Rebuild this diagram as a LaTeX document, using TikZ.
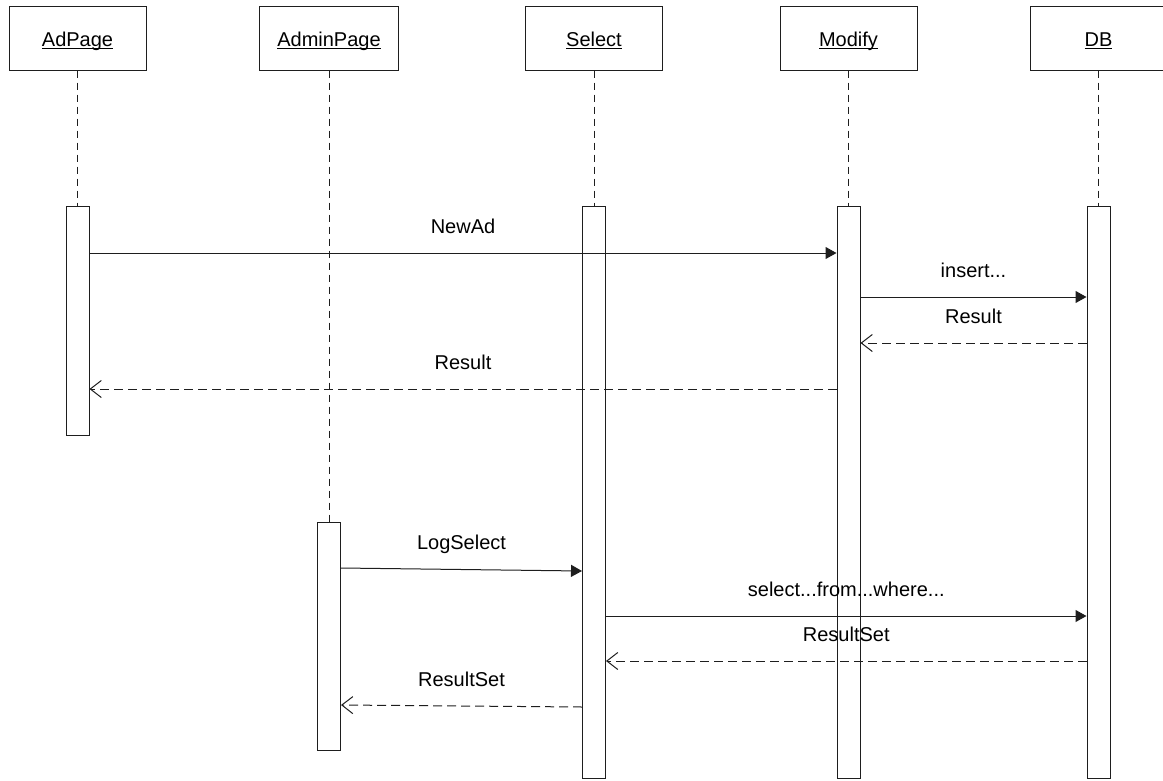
\documentclass[tikz,border=0pt]{standalone}
\usepackage{fontspec}
\setmainfont{Liberation Sans}
\usepackage{xcolor}
\definecolor{ln}{RGB}{30, 30, 30}
\usetikzlibrary{arrows.meta,positioning}

% underlined object name, rule crossing the descenders
\newcommand{\objname}[1]{\setbox0\hbox{#1}\rlap{\rule[-2pt]{\wd0}{1pt}}\box0}

\begin{document}
\begin{tikzpicture}[x=1pt, y=-1pt, font=\fontsize{20}{24}\selectfont,
        head/.style={draw=ln, line width=1pt, minimum width=137pt, minimum height=64pt,
            text height=17.5pt, text depth=0pt, inner sep=0pt},
        bar/.style={draw=ln, line width=1pt, fill=white, minimum width=23pt, inner sep=0pt, anchor=north},
        life/.style={draw=ln, line width=1pt, dash pattern=on 7pt off 5pt},
        call/.style={draw=ln, line width=1pt, -{Triangle[length=11pt,width=12pt]}},
        reply/.style={draw=ln, line width=1pt, dash pattern=on 9pt off 5pt,
            -{Straight Barb[length=11pt,width=17pt]}},
        lbl/.style={midway, anchor=base, yshift=20pt}]
        \useasboundingbox (0,0) rectangle (1163,780);

        % Objects
        \node[head] (adpage) at (77.5,38) {\objname{AdPage}};
        \node[head, minimum width=139pt] (adminpage) at (329,38) {\objname{AdminPage}};
        \node[head] (select) at (594,38) {\objname{Select}};
        \node[head] (modify) at (848.5,38) {\objname{Modify}};
        \node[head] (db) at (1098.5,38) {\objname{DB}};

        % Activation bars
        \node[bar, minimum height=229pt] (adbar) at (77.5,206) {};
        \node[bar, minimum height=228pt] (adminbar) at (329,522) {};
        \node[bar, minimum height=572pt] (selbar) at (594,206) {};
        \node[bar, minimum height=572pt] (modbar) at (848.5,206) {};
        \node[bar, minimum height=572pt] (dbbar) at (1098.5,206) {};

        % Lifelines
        \draw[life] (adpage.south) -- (adbar.north);
        \draw[life] (adminpage.south) -- (adminbar.north);
        \draw[life] (select.south) -- (selbar.north);
        \draw[life] (modify.south) -- (modbar.north);
        \draw[life] (db.south) -- (dbbar.north);

        % Message heights
        \coordinate (m1) at (0,253);
        \coordinate (m2) at (0,297);
        \coordinate (m3) at (0,343);
        \coordinate (m4) at (0,389);
        \coordinate (m5) at (0,568);
        \coordinate (m5b) at (0,571);
        \coordinate (m6) at (0,616);
        \coordinate (m7) at (0,661);
        \coordinate (m8) at (0,707);
        \coordinate (m8b) at (0,705);

        % Inserting an ad
        \draw[call] (adbar.east |- m1) -- (modbar.west |- m1) node[lbl] {NewAd};
        \draw[call] (modbar.east |- m2) -- (dbbar.west |- m2) node[lbl] {insert...};
        \draw[reply] (dbbar.west |- m3) -- (modbar.east |- m3) node[lbl] {Result};
        \draw[reply] (modbar.west |- m4) -- (adbar.east |- m4) node[lbl] {Result};

        % Reading the log
        \draw[call] (adminbar.east |- m5) -- (selbar.west |- m5b) node[lbl] {LogSelect};
        \draw[call] (selbar.east |- m6) -- (dbbar.west |- m6) node[lbl] {select...from...where...};
        \draw[reply] (dbbar.west |- m7) -- (selbar.east |- m7) node[lbl] {ResultSet};
        \draw[reply] (selbar.west |- m8) -- (adminbar.east |- m8b) node[lbl] {ResultSet};
    \end{tikzpicture}
\end{document}
